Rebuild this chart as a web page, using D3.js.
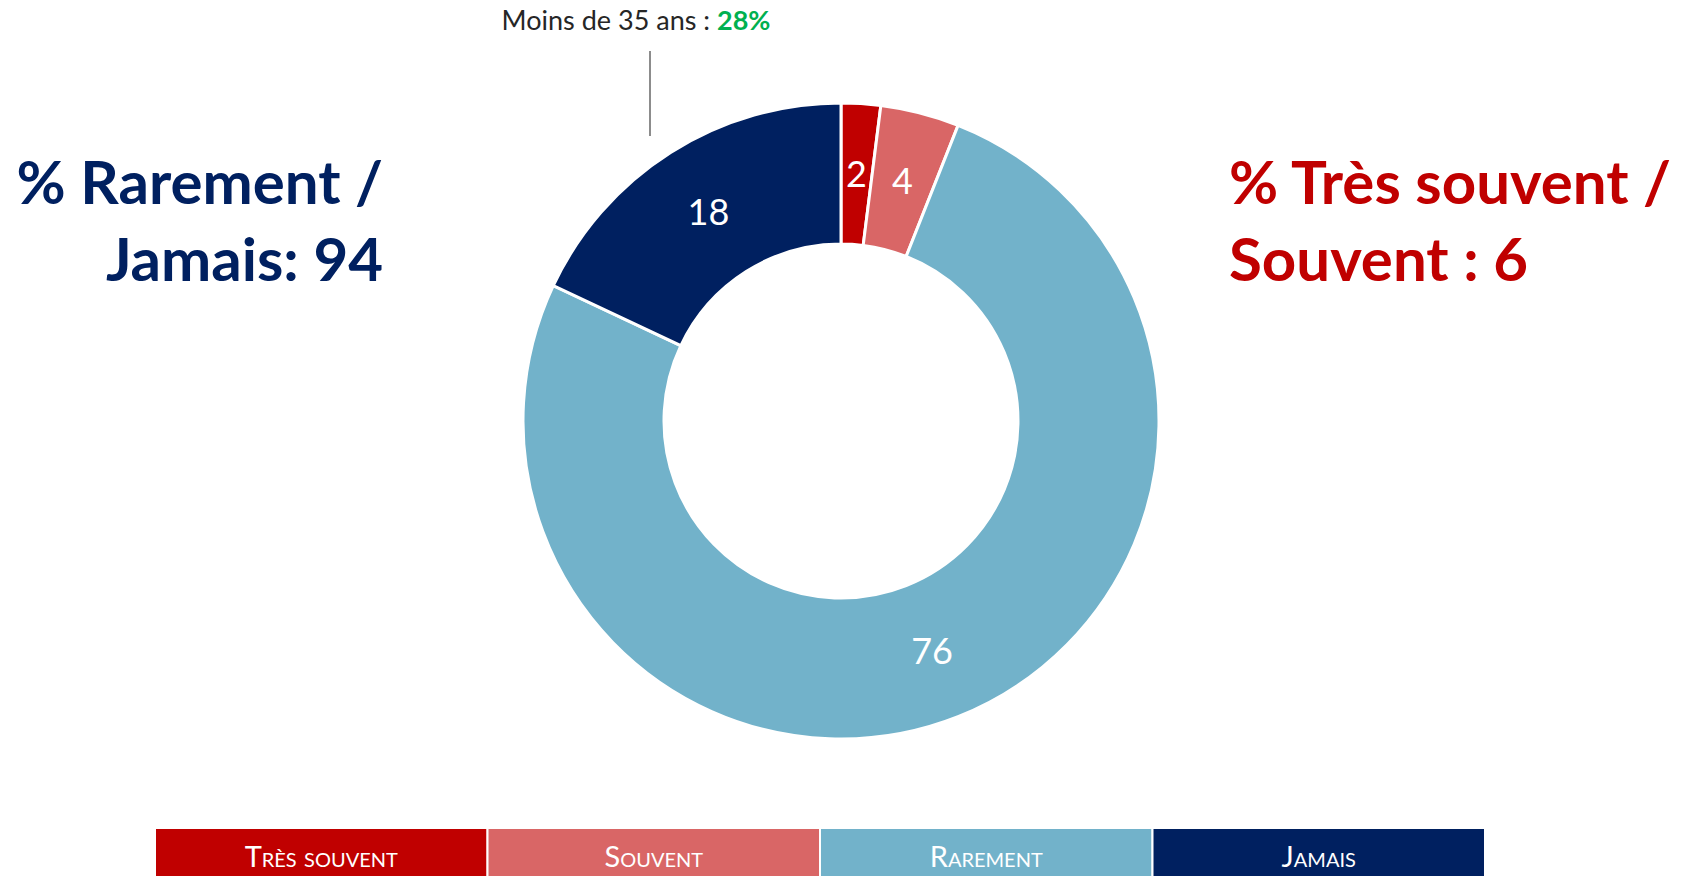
<!DOCTYPE html>
<html>
<head>
<meta charset="utf-8">
<script src="https://cdn.jsdelivr.net/npm/d3@7"></script>
<style>
  body { margin: 0; background: #fff; }
  svg { display: block; font-family: Lato, "Noto Sans", sans-serif; }
</style>
</head>
<body>
<script>
const categories = ["Très souvent", "Souvent", "Rarement", "Jamais"];
const values = [2, 4, 76, 18];
const colors = ["#C00000", "#D96666", "#72B2CA", "#002060"];
const leftLines = ["% Rarement /", "Jamais: 94"];
const rightLines = ["% Très souvent /", "Souvent : 6"];
const noteLabel = "Moins de 35 ans : ";
const noteValue = "28%";

const width = 1681, height = 876;
const cx = 841, cy = 421, outerR = 318, innerR = 177;

const svg = d3.select("body").append("svg")
  .attr("width", width)
  .attr("height", height);

const data = categories.map((c, i) => ({ cat: c, value: values[i] }));
const color = d3.scaleOrdinal().domain(categories).range(colors);

const pie = d3.pie().sort(null).value(d => d.value);
const arc = d3.arc().innerRadius(innerR).outerRadius(outerR);

const g = svg.append("g").attr("transform", `translate(${cx},${cy})`);

g.selectAll("path")
  .data(pie(data))
  .enter().append("path")
  .attr("d", arc)
  .attr("fill", d => color(d.data.cat))
  .attr("stroke", "#fff")
  .attr("stroke-width", 3);

g.selectAll("text")
  .data(pie(data))
  .enter().append("text")
  .attr("transform", d => `translate(${arc.centroid(d)})`)
  .attr("text-anchor", "middle")
  .attr("dy", "0.36em")
  .attr("fill", "#fff")
  .attr("font-size", 36)
  .text(d => d.data.value);

// annotation at top
const note = svg.append("text")
  .attr("x", 636).attr("y", 30)
  .attr("text-anchor", "middle")
  .attr("font-size", 27)
  .attr("fill", "#262626");
note.append("tspan").text(noteLabel);
note.append("tspan").attr("fill", "#00B050").attr("font-weight", 700).text(noteValue);

svg.append("line")
  .attr("x1", 650).attr("x2", 650)
  .attr("y1", 51).attr("y2", 136)
  .attr("stroke", "#8c8c8c")
  .attr("stroke-width", 2);

// big side texts
svg.append("g").selectAll("text")
  .data(leftLines)
  .enter().append("text")
  .attr("x", 383)
  .attr("y", (d, i) => 204 + i * 77)
  .attr("text-anchor", "end")
  .attr("font-size", 60)
  .attr("font-weight", 700)
  .attr("fill", "#002060")
  .text(d => d);

svg.append("g").selectAll("text")
  .data(rightLines)
  .enter().append("text")
  .attr("x", 1229)
  .attr("y", (d, i) => 204 + i * 77)
  .attr("font-size", 60)
  .attr("font-weight", 700)
  .attr("fill", "#C00000")
  .text(d => d);

// legend
const lx = d3.scaleBand().domain(categories).range([155, 1485]);
const legend = svg.append("g");
legend.selectAll("rect")
  .data(categories)
  .enter().append("rect")
  .attr("x", d => lx(d))
  .attr("y", 828)
  .attr("width", lx.bandwidth())
  .attr("height", 60)
  .attr("fill", d => color(d))
  .attr("stroke", "#fff")
  .attr("stroke-width", 2);

legend.selectAll("text")
  .data(categories)
  .enter().append("text")
  .attr("x", d => lx(d) + lx.bandwidth() / 2)
  .attr("y", 867)
  .attr("text-anchor", "middle")
  .attr("font-size", 29)
  .attr("font-variant", "small-caps")
  .attr("fill", "#fff")
  .text(d => d);
</script>
</body>
</html>
